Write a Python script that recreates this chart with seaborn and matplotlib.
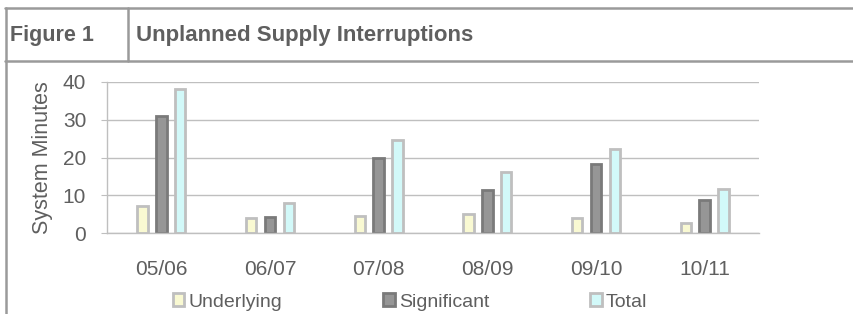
import numpy as np
import pandas as pd
import matplotlib
matplotlib.use("Agg")
import matplotlib.pyplot as plt
from matplotlib.lines import Line2D
from matplotlib.ticker import FixedLocator
import seaborn as sns

# data
periods = ["05/06", "06/07", "07/08", "08/09", "09/10", "10/11"]
series = ["Underlying", "Significant", "Total"]
underlying = [7.2, 4.0, 4.6, 5.0, 4.0, 2.7]
significant = [30.9, 4.3, 19.9, 11.3, 18.3, 8.8]
total = [38.2, 8.1, 24.6, 16.2, 22.2, 11.6]

face_cols = {"Underlying": "#FFFFCC", "Significant": "#969696", "Total": "#CCFFFF"}
edge_cols = {"Underlying": "#BFBFBF", "Significant": "#7A7A7A", "Total": "#BFBFBF"}

df = pd.DataFrame({
    "period": periods * 3,
    "series": np.repeat(series, len(periods)),
    "value": underlying + significant + total,
})

sns.set_style("white")
plt.rcParams["font.family"] = ["Liberation Sans", "DejaVu Sans"]

W, H = 854, 314
fig = plt.figure(figsize=(W / 100, H / 100), dpi=100)

def fx(px):
    return px / W

def fy(px):
    return 1 - px / H

# frame of the figure box
line_c = "#9A9A9A"
lw = 1.8
fig.add_artist(Line2D([fx(5), 1], [fy(7.5), fy(7.5)], color=line_c, lw=lw, transform=fig.transFigure))
fig.add_artist(Line2D([fx(5), 1], [fy(61), fy(61)], color=line_c, lw=lw, transform=fig.transFigure))
fig.add_artist(Line2D([fx(6), fx(6)], [fy(7.5), 0], color=line_c, lw=lw, transform=fig.transFigure))
fig.add_artist(Line2D([fx(128), fx(128)], [fy(7.5), fy(61)], color=line_c, lw=lw, transform=fig.transFigure))

txt_c = "#5F5F5F"
fig.text(fx(10), fy(35), "Figure 1", fontsize=15.5, fontweight="bold", color=txt_c, va="center", ha="left")
fig.text(fx(136), fy(35), "Unplanned Supply Interruptions", fontsize=16, fontweight="bold",
         color=txt_c, va="center", ha="left")

# plot area
left, right, top, bottom = 107, 759, 81.7, 233.3
ax = fig.add_axes([fx(left), fy(bottom), fx(right - left), (bottom - top) / H])

sns.barplot(data=df, x="period", y="value", hue="series", hue_order=series,
            palette=face_cols, width=0.52, gap=0.45, legend=False, ax=ax)

for cont, name in zip(ax.containers, series):
    for p in cont:
        p.set_edgecolor(edge_cols[name])
        p.set_linewidth(2)

ax.set_ylim(0, 40)
ax.set_xlim(-0.5, len(periods) - 0.5)
ax.set_yticks([0, 10, 20, 30, 40])
ax.yaxis.grid(True, color="#BFBFBF", lw=1)
ax.set_axisbelow(True)

for s in ["top", "right"]:
    ax.spines[s].set_visible(False)
for s in ["left", "bottom"]:
    ax.spines[s].set_color("#BFBFBF")
    ax.spines[s].set_linewidth(1)

ax.xaxis.set_minor_locator(FixedLocator(np.arange(-0.5, len(periods), 1.0)))
ax.tick_params(axis="x", which="major", length=0, pad=19, labelsize=15, labelcolor=txt_c)
ax.tick_params(axis="x", which="minor", length=5, color="#BFBFBF", direction="out")
ax.tick_params(axis="y", length=4, color="#BFBFBF", pad=11, labelsize=15, labelcolor=txt_c, left=True)

ax.set_xlabel("")
ax.set_ylabel("System Minutes", fontsize=15.5, color=txt_c, labelpad=7)

ax.legend(handles=ax.containers, labels=series, ncol=3, frameon=False,
          loc="center", bbox_to_anchor=(fx(410), fy(302)), bbox_transform=fig.transFigure,
          fontsize=14, labelcolor=txt_c, handlelength=0.6, handleheight=0.6,
          handletextpad=0.2, columnspacing=5.2, borderpad=0)

fig.savefig("out.png", dpi=100)
